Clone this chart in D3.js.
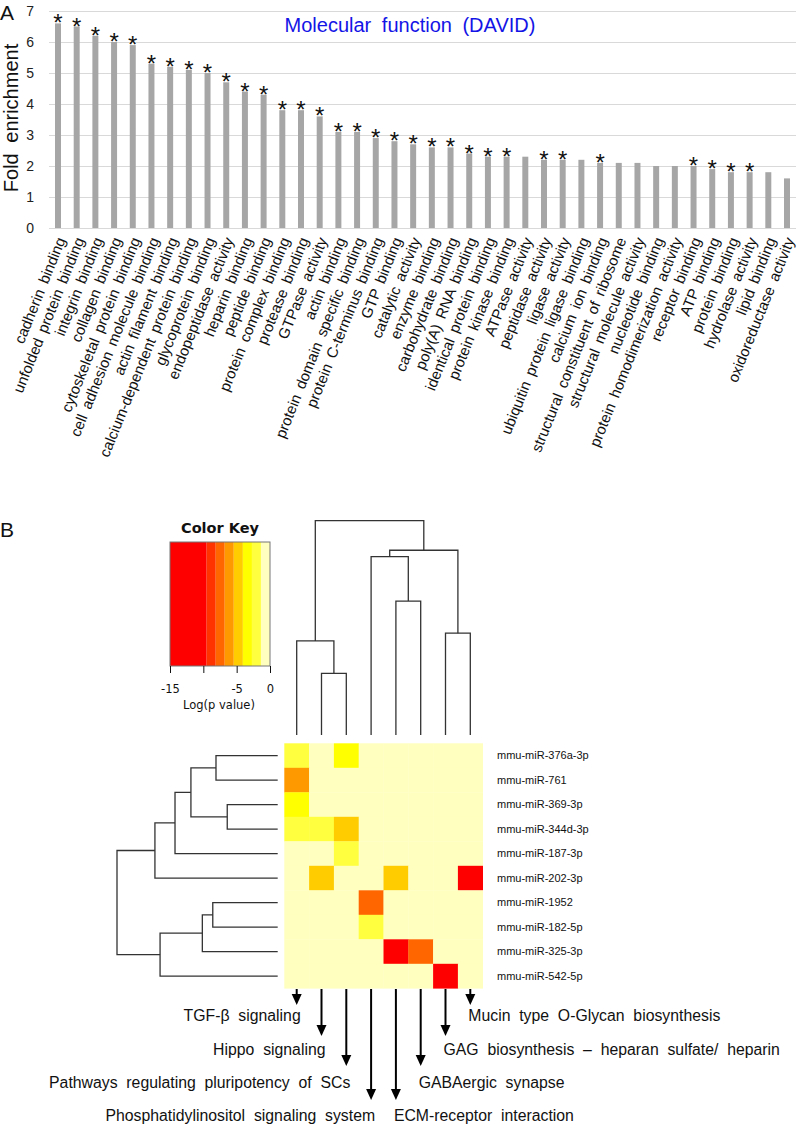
<!DOCTYPE html>
<html><head><meta charset="utf-8">
<script src="https://cdn.jsdelivr.net/npm/d3@7"></script>
<style>body{margin:0;background:#fff} svg{display:block}</style>
</head><body>
<svg id="c" width="797" height="1128"></svg>
<script>
// ---------------- Data: panel A ----------------
const categories = ["cadherin binding","unfolded protein binding","integrin binding","collagen binding","cytoskeletal protein binding","cell adhesion molecule binding","actin filament binding","calcium-dependent protein binding","glycoprotein binding","endopeptidase activity","heparin binding","peptide binding","protein complex binding","protease binding","GTPase activity","actin binding","protein domain specific binding","protein C-terminus binding","GTP binding","catalytic activity","enzyme binding","carbohydrate binding","poly(A) RNA binding","identical protein binding","protein kinase binding","ATPase activity","peptidase activity","ligase activity","ubiquitin protein ligase binding","calcium ion binding","structural constituent of ribosome","structural molecule activity","nucleotide binding","protein homodimerization activity","receptor binding","ATP binding","protein binding","hydrolase activity","lipid binding","oxidoreductase activity"];
const foldEnrichment = [6.6,6.5,6.2,6.0,5.9,5.3,5.2,5.1,5.0,4.7,4.4,4.3,3.8,3.8,3.6,3.1,3.1,2.9,2.8,2.7,2.6,2.6,2.4,2.3,2.3,2.3,2.2,2.2,2.2,2.1,2.1,2.1,2.0,2.0,2.0,1.9,1.8,1.8,1.8,1.6];
const significant = [1,1,1,1,1,1,1,1,1,1,1,1,1,1,1,1,1,1,1,1,1,1,1,1,1,0,1,1,0,1,0,0,0,0,1,1,1,1,0,0];
const yTicks = [0,1,2,3,4,5,6,7];

// ---------------- Data: panel B ----------------
const mirnas = ["mmu-miR-376a-3p","mmu-miR-761","mmu-miR-369-3p","mmu-miR-344d-3p","mmu-miR-187-3p","mmu-miR-202-3p","mmu-miR-1952","mmu-miR-182-5p","mmu-miR-325-3p","mmu-miR-542-5p"];
const pathways = ["TGF-\u03b2 signaling","Hippo signaling","Pathways regulating pluripotency of SCs","Phosphatidylinositol signaling system","ECM-receptor interaction","GABAergic synapse","GAG biosynthesis \u2013 heparan sulfate/ heparin","Mucin type O-Glycan biosynthesis"];
// log(p value) per miRNA (rows) x pathway (columns)
const logP = [
  [-2.0, 0, -3.4, 0, 0, 0, 0, 0],
  [-6.0, 0, 0, 0, 0, 0, 0, 0],
  [-3.4, 0, 0, 0, 0, 0, 0, 0],
  [-2.0, -2.0, -4.8, 0, 0, 0, 0, 0],
  [0, 0, -2.0, 0, 0, 0, 0, 0],
  [0, -4.8, 0, 0, -4.8, 0, 0, -12],
  [0, 0, 0, -7.5, 0, 0, 0, 0],
  [0, 0, 0, -2.0, 0, 0, 0, 0],
  [0, 0, 0, 0, -12, -7.5, 0, 0],
  [0, 0, 0, 0, 0, 0, -12, 0]
];
const keyBreaks = [-15,-9.5,-8.14,-6.79,-5.43,-4.07,-2.71,-1.36,0];
const keyColors = ["#FF0000","#FF3300","#FF6600","#FF9900","#FFCC00","#FFFF00","#FFFF40","#FFFFBF"];
const keyTicks = [-15,-10,-5,0];
const keyTickLabels = ["-15","","-5","0"];
// dendrograms: [height, left, right], leaves are indices
const colTree = [1.0, [0.439, 0, [0.288, 1, 2]], [0.862, [0.832, 3, [0.625, 4, 5]], [0.475, 6, 7]]];
const rowTree = [1.0, [0.764, [0.639, [0.540, [0.384, 0, 1], [0.314, 2, 3]], 4], 5], [0.732, [0.469, [0.404, 6, 7], 8], 9]];

// ---------------- Drawing ----------------
const svg = d3.select("#c");
const ARIAL = "'Liberation Sans', Arial, sans-serif";
const DEJAVU = "'DejaVu Sans', sans-serif";

// Panel A
const x = d3.scaleBand().domain(categories).range([48.65, 796.35]).paddingInner(0.68).paddingOuter(0.34);
const y = d3.scaleLinear().domain([0, 7]).range([228, 11]);

const gridG = svg.append("g").attr("transform", "translate(49,0)")
  .call(d3.axisLeft(y).tickValues(yTicks).tickSizeInner(-(796 - 49)).tickSizeOuter(0).tickPadding(15).tickFormat(d3.format("d")));
gridG.select(".domain").remove();
gridG.selectAll(".tick line").attr("stroke", "#d9d9d9").attr("stroke-width", 1.2);
gridG.selectAll(".tick text").attr("font-family", ARIAL).attr("font-size", 14).attr("fill", "#222");

svg.append("g").selectAll("rect").data(categories).join("rect")
  .attr("x", d => x(d)).attr("width", x.bandwidth())
  .attr("y", (d, i) => y(foldEnrichment[i]))
  .attr("height", (d, i) => y(0) - y(foldEnrichment[i]))
  .attr("fill", "#a6a6a6");

svg.append("g").selectAll("text").data(categories.filter((d, i) => significant[i])).join("text")
  .attr("x", d => x(d) + x.bandwidth() / 2)
  .attr("y", d => y(foldEnrichment[categories.indexOf(d)]) + 8)
  .attr("text-anchor", "middle").attr("font-family", ARIAL).attr("font-size", 24).attr("fill", "#111")
  .text("*");

svg.append("g").selectAll("text").data(categories).join("text")
  .attr("transform", d => `translate(${x(d) + x.bandwidth() / 2 + 3},238) rotate(-68)`)
  .attr("text-anchor", "end").attr("dy", "0.35em")
  .attr("font-family", ARIAL).attr("font-size", 15).attr("word-spacing", 3).attr("fill", "#111")
  .text(d => d);

svg.append("text").attr("transform", "translate(18,118) rotate(-90)")
  .attr("text-anchor", "middle").attr("font-family", ARIAL).attr("font-size", 20).attr("word-spacing", 5).attr("fill", "#111")
  .text("Fold enrichment");

svg.append("text").attr("x", 410).attr("y", 32).attr("text-anchor", "middle")
  .attr("font-family", ARIAL).attr("font-size", 20).attr("word-spacing", 5).attr("fill", "#1414e6")
  .text("Molecular function (DAVID)");

svg.append("text").attr("x", 0).attr("y", 20).attr("font-family", ARIAL).attr("font-size", 21).attr("fill", "#111").text("A");
svg.append("text").attr("x", 0).attr("y", 537).attr("font-family", ARIAL).attr("font-size", 21).attr("fill", "#111").text("B");

// Panel B: color key
const kx = d3.scaleLinear().domain([-15, 0]).range([170, 270]);
const keyTop = 542, keyBot = 666;
svg.append("text").attr("x", 220).attr("y", 533).attr("text-anchor", "middle")
  .attr("font-family", DEJAVU).attr("font-weight", "bold").attr("font-size", 14.5).attr("fill", "#111").text("Color Key");
svg.append("g").selectAll("rect").data(keyColors).join("rect")
  .attr("x", (d, i) => kx(keyBreaks[i])).attr("width", (d, i) => kx(keyBreaks[i + 1]) - kx(keyBreaks[i]))
  .attr("y", keyTop).attr("height", keyBot - keyTop).attr("fill", d => d);
svg.append("rect").attr("x", 170).attr("y", keyTop).attr("width", 100).attr("height", keyBot - keyTop)
  .attr("fill", "none").attr("stroke", "#777").attr("stroke-width", 1);
const kAxis = svg.append("g").attr("transform", `translate(0,${keyBot})`)
  .call(d3.axisBottom(kx).tickValues(keyTicks).tickSize(7).tickPadding(12).tickFormat((d, i) => keyTickLabels[i]));
kAxis.select(".domain").remove();
kAxis.selectAll(".tick line").attr("stroke", "#111");
kAxis.selectAll(".tick text").attr("font-family", DEJAVU).attr("font-size", 11.5).attr("fill", "#111");
svg.append("text").attr("x", 219).attr("y", 709).attr("text-anchor", "middle")
  .attr("font-family", DEJAVU).attr("font-size", 11.5).attr("fill", "#111").text("Log(p value)");

// Heatmap
const cx = d3.scaleBand().domain(d3.range(pathways.length)).range([284.3, 482.7]);
const ry = d3.scaleBand().domain(d3.range(mirnas.length)).range([743.3, 988.3]);
const color = d3.scaleThreshold().domain(keyBreaks.slice(1, -1)).range(keyColors);
const cells = [];
logP.forEach((row, r) => row.forEach((v, c) => cells.push({r, c, v})));
svg.append("g").selectAll("rect").data(cells).join("rect")
  .attr("x", d => cx(d.c)).attr("y", d => ry(d.r))
  .attr("width", cx.bandwidth() + 0.3).attr("height", ry.bandwidth() + 0.3)
  .attr("fill", d => color(d.v));

svg.append("g").selectAll("text").data(mirnas).join("text")
  .attr("x", 497).attr("y", (d, i) => ry(i) + ry.bandwidth() / 2).attr("dy", "0.35em")
  .attr("font-family", ARIAL).attr("font-size", 11).attr("fill", "#111").text(d => d);

// Dendrograms
const colH = d3.scaleLinear().domain([0, 1]).range([735, 520.7]);
const rowH = d3.scaleLinear().domain([0, 1]).range([277.7, 117]);
const dg = svg.append("g").attr("fill", "none").attr("stroke", "#333").attr("stroke-width", 1.3);
function walk(node, leafPos, draw) {
  if (typeof node === "number") return {p: leafPos(node), h: 0};
  const a = walk(node[1], leafPos, draw), b = walk(node[2], leafPos, draw);
  draw(a, b, node[0]);
  return {p: (a.p + b.p) / 2, h: node[0]};
}
walk(colTree, i => cx(i) + cx.bandwidth() / 2, (a, b, h) => {
  dg.append("path").attr("d", `M${a.p},${colH(a.h)}V${colH(h)}H${b.p}V${colH(b.h)}`);
});
walk(rowTree, i => ry(i) + ry.bandwidth() / 2, (a, b, h) => {
  dg.append("path").attr("d", `M${rowH(a.h)},${a.p}H${rowH(h)}V${b.p}H${rowH(b.h)}`);
});

// Pathway arrows + labels
const arrowLevel = [0, 1, 2, 3, 3, 2, 1, 0];
const tipY = [1005, 1036, 1066, 1100];
const labY = [1021, 1055, 1088, 1121];
const ag = svg.append("g");
pathways.forEach((p, i) => {
  const xc = cx(i) + cx.bandwidth() / 2;
  const t = tipY[arrowLevel[i]];
  ag.append("line").attr("x1", xc).attr("x2", xc).attr("y1", 989).attr("y2", t - 7)
    .attr("stroke", "#000").attr("stroke-width", 2);
  ag.append("path").attr("d", `M${xc - 5},${t - 11}L${xc + 5},${t - 11}L${xc},${t}Z`).attr("fill", "#000");
  const left = i < 4;
  ag.append("text").attr("x", left ? xc + 4 : xc - 2).attr("y", labY[arrowLevel[i]])
    .attr("text-anchor", left ? "end" : "start")
    .attr("font-family", ARIAL).attr("font-size", 15.8).attr("word-spacing", 4.4).attr("fill", "#111")
    .text(p);
});
</script>
</body></html>
